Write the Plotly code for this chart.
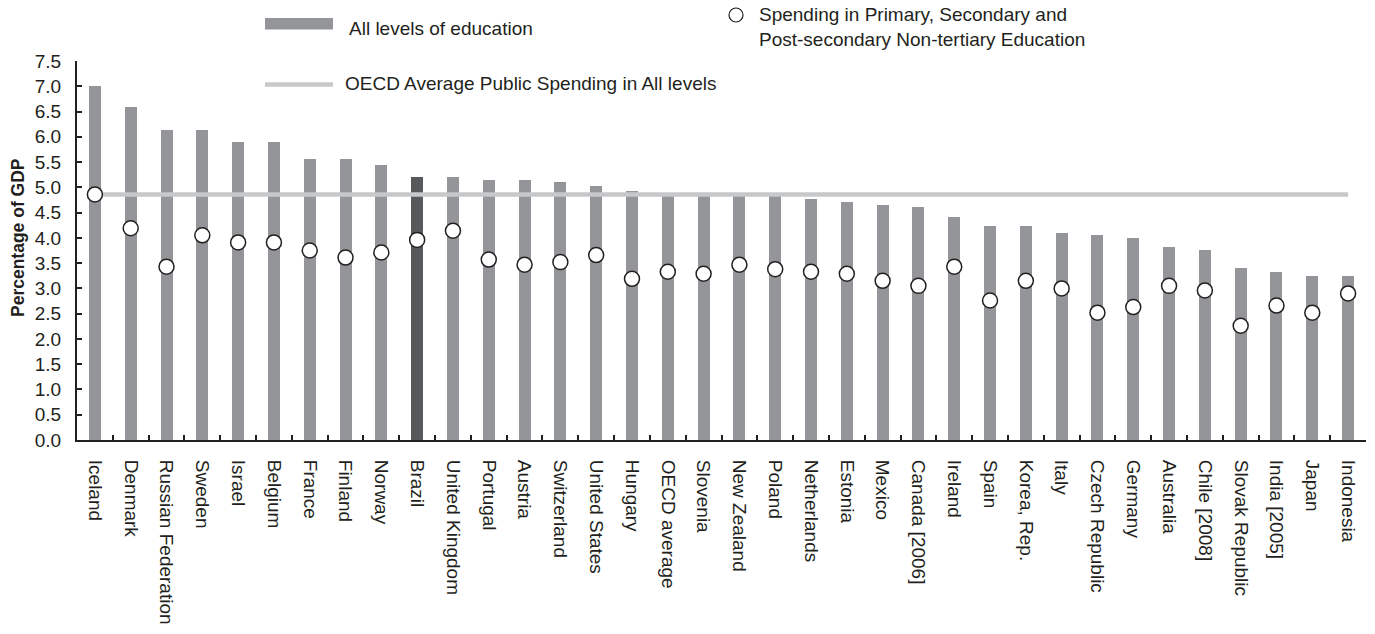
import plotly.graph_objects as go

countries = ["Iceland", "Denmark", "Russian Federation", "Sweden", "Israel", "Belgium",
             "France", "Finland", "Norway", "Brazil", "United Kingdom", "Portugal",
             "Austria", "Switzerland", "United States", "Hungary", "OECD average",
             "Slovenia", "New Zealand", "Poland", "Netherlands", "Estonia", "Mexico",
             "Canada [2006]", "Ireland", "Spain", "Korea, Rep.", "Italy", "Czech Republic",
             "Germany", "Australia", "Chile [2008]", "Slovak Republic", "India [2005]",
             "Japan", "Indonesia"]

all_levels = [7.00, 6.59, 6.14, 6.14, 5.90, 5.90, 5.56, 5.56, 5.45, 5.21, 5.21, 5.15,
              5.15, 5.11, 5.03, 4.93, 4.86, 4.86, 4.85, 4.84, 4.77, 4.71, 4.65,
              4.61, 4.42, 4.24, 4.24, 4.10, 4.06, 4.00, 3.82, 3.76, 3.41, 3.33,
              3.25, 3.25]

primary_secondary = [4.86, 4.19, 3.43, 4.05, 3.91, 3.91, 3.75, 3.61, 3.71, 3.96, 4.14, 3.57,
                     3.47, 3.52, 3.66, 3.19, 3.33, 3.29, 3.47, 3.38, 3.33, 3.29, 3.15,
                     3.05, 3.43, 2.76, 3.15, 3.00, 2.52, 2.63, 3.05, 2.96, 2.26, 2.66,
                     2.52, 2.90]

oecd_avg_all_levels = 4.86
highlight = "Brazil"

y_ticks = [0.0, 0.5, 1.0, 1.5, 2.0, 2.5, 3.0, 3.5, 4.0, 4.5, 5.0, 5.5, 6.0, 6.5, 7.0, 7.5]

BAR = "#939598"
BAR_HI = "#58595b"
LINE = "#c7c8ca"
TXT = "#231f20"
FONT = "Liberation Sans, Arial, sans-serif"

W, H = 1375, 634
L, R, T, B = 77, 9, 61, 194
pw, ph = W - L - R, H - T - B


def px_x(p):
    return (p - L) / pw


def px_y(p):
    return (H - B - p) / ph


fig = go.Figure()
fig.add_trace(go.Bar(
    x=countries, y=all_levels, width=0.335,
    marker=dict(color=[BAR_HI if c == highlight else BAR for c in countries], line=dict(width=0)),
    name="All levels of education", showlegend=False))
fig.add_trace(go.Scatter(
    x=countries, y=[oecd_avg_all_levels] * len(countries), mode="lines",
    line=dict(color=LINE, width=4.5), name="OECD Average Public Spending in All levels",
    showlegend=False))
fig.add_trace(go.Scatter(
    x=countries, y=primary_secondary, mode="markers",
    marker=dict(size=15, color="white", line=dict(color=TXT, width=1.5)),
    name="Spending in Primary, Secondary and Post-secondary Non-tertiary Education",
    showlegend=False, cliponaxis=False))

fig.update_layout(
    width=W, height=H, margin=dict(l=L, r=R, t=T, b=B, pad=0),
    plot_bgcolor="white", paper_bgcolor="white",
    font=dict(family=FONT, size=19, color=TXT),
    bargap=0, showlegend=False,
)
fig.update_xaxes(
    type="category", range=[-0.5, len(countries) - 0.5],
    showline=True, linecolor=TXT, linewidth=2, mirror=False,
    ticks="inside", tickson="boundaries", ticklen=5, tickwidth=1.5, tickcolor=TXT,
    tickangle=90, ticklabelstandoff=14, showgrid=False, zeroline=False,
    tickfont=dict(family=FONT, size=19, color=TXT),
)
fig.update_yaxes(
    range=[0, 7.5], tickvals=y_ticks, ticktext=[f"{v:.1f}" for v in y_ticks],
    showline=True, linecolor=TXT, linewidth=2,
    ticks="inside", ticklen=5, tickwidth=1.5, tickcolor=TXT,
    ticklabelstandoff=10, showgrid=False, zeroline=False,
    tickfont=dict(family=FONT, size=19, color=TXT),
)

# y-axis title
fig.add_annotation(text="<b>Percentage of GDP</b>", textangle=-90, xref="paper", yref="paper",
                   x=px_x(18.5), y=px_y(237.5), xanchor="center", yanchor="middle",
                   showarrow=False, font=dict(family=FONT, size=17.5, color=TXT))

# legend keys
fig.add_shape(type="rect", xref="paper", yref="paper", x0=px_x(265), x1=px_x(333),
              y0=px_y(29.5), y1=px_y(18), fillcolor=BAR, line=dict(width=0))
fig.add_shape(type="line", xref="paper", yref="paper", x0=px_x(265), x1=px_x(333),
              y0=px_y(84.5), y1=px_y(84.5), line=dict(color=LINE, width=4.5))
fig.add_shape(type="circle", xref="paper", yref="paper", xsizemode="pixel", ysizemode="pixel",
              xanchor=px_x(736), yanchor=px_y(15), x0=-7, x1=7, y0=-7, y1=7,
              fillcolor="white", line=dict(color=TXT, width=1.2))

fig.add_annotation(text="All levels of education", xref="paper", yref="paper",
                   x=px_x(347), y=px_y(28.5), xanchor="left", yanchor="middle", showarrow=False)
fig.add_annotation(text="OECD Average Public Spending in All levels", xref="paper", yref="paper",
                   x=px_x(343), y=px_y(84), xanchor="left", yanchor="middle", showarrow=False)
fig.add_annotation(text="Spending in Primary, Secondary and", xref="paper", yref="paper",
                   x=px_x(757), y=px_y(14.5), xanchor="left", yanchor="middle", showarrow=False)
fig.add_annotation(text="Post-secondary Non-tertiary Education", xref="paper", yref="paper",
                   x=px_x(757), y=px_y(39), xanchor="left", yanchor="middle", showarrow=False)

fig.write_html("out.html", config={"displayModeBar": False},
               post_script="document.body.style.margin='0';document.body.style.overflow='hidden';")
